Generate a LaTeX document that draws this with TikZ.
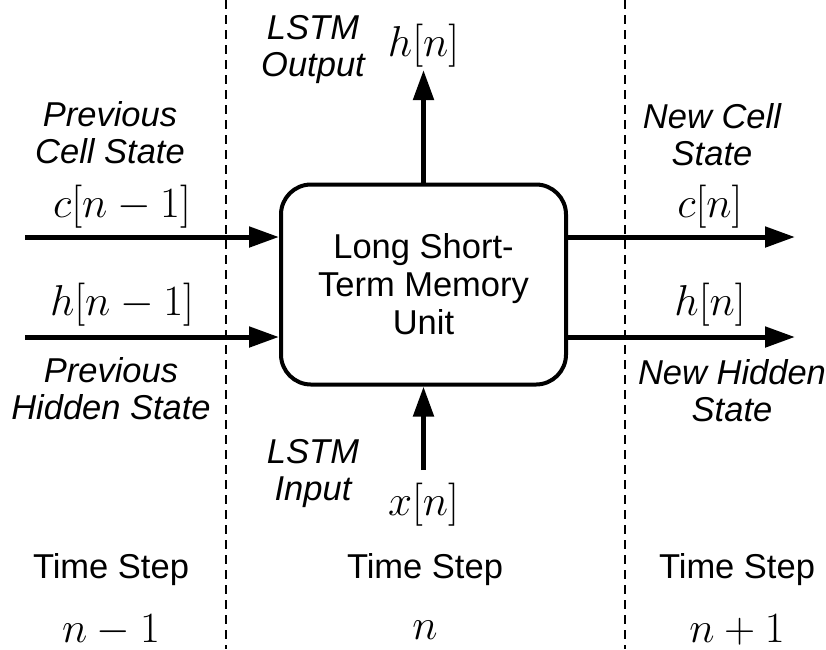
\documentclass[tikz,border=0pt]{standalone}
\usepackage{fontspec}
\newfontfamily\lblfont{Liberation Sans}
\usetikzlibrary{arrows.meta}
\usetikzlibrary{positioning}

\begin{document}
\begin{tikzpicture}[
    x=0.4pt, y=-0.4pt,
    unit/.style={draw, line width=1.6pt, rounded corners=12pt, minimum width=114pt, minimum height=80pt, align=center, font=\lblfont\fontsize{13.8}{15.2}\selectfont},
    flow/.style={-{Triangle[length=12pt,width=8pt]}, line width=2pt},
    sig/.style={inner sep=0pt, font=\fontsize{17.5}{20}\selectfont},
    desc/.style={align=center, inner sep=0pt, font=\lblfont\itshape\fontsize{13.8}{14.8}\selectfont},
    stepname/.style={inner sep=0pt, font=\lblfont\fontsize{13.8}{15}\selectfont},
    divider/.style={line width=0.9pt, dash pattern=on 3.6pt off 2.4pt}
]
\useasboundingbox (0,0) rectangle (826,649);

% =========================================================================
% TIME STEP DIVIDERS
% =========================================================================
\coordinate (divA top) at (226,0);
\coordinate (divA bot) at (226,649);
\coordinate (divB top) at (625,0);
\coordinate (divB bot) at (625,649);
\draw[divider] (divA top) -- (divA bot);
\draw[divider] (divB top) -- (divB bot);

% =========================================================================
% LSTM UNIT
% =========================================================================
\node[unit] (lstm) at (423.5,284.5) {Long Short-\\Term Memory\\Unit};

% =========================================================================
% INPUTS (left side and bottom)
% =========================================================================
\coordinate (cin) at (25,237);
\coordinate (hin) at (25,337);
\coordinate (xin) at (423.5,470);

\draw[flow] (cin) -- (cin -| lstm.west);
\draw[flow] (hin) -- (hin -| lstm.west);
\draw[flow] (xin) -- (lstm.south);

\node[desc] (cprevtxt) at (110,133) {Previous\\Cell State};
\node[sig] (cprev) at (122,207) {$c[n-1]$};
\node[sig] (hprev) at (122,305) {$h[n-1]$};
\node[desc] (hprevtxt) at (111,389) {Previous\\Hidden State};

\node[desc] (intxt) at (313,474) {LSTM\\Input};
\node[sig] (xcur) at (423.5,505) {$x[n]$};

% =========================================================================
% OUTPUTS (right side and top)
% =========================================================================
\coordinate (cout) at (795,237);
\coordinate (hout) at (795,337);
\coordinate (yout) at (423.5,70);

\draw[flow] (lstm.east |- cout) -- (cout);
\draw[flow] (lstm.east |- hout) -- (hout);
\draw[flow] (lstm.north) -- (yout);

\node[desc] (outtxt) at (313,50) {LSTM\\Output};
\node[sig] (hcur top) at (423.5,46) {$h[n]$};

\node[desc] (cnewtxt) at (712,135) {New Cell\\State};
\node[sig] (cnew) at (710,207) {$c[n]$};
\node[sig] (hnew) at (710,305) {$h[n]$};
\node[desc] (hnewtxt) at (732,391) {New Hidden\\State};

% =========================================================================
% TIME STEP LABELS
% =========================================================================
\node[stepname] (tsA) at (111,570) {Time Step};
\node[sig] (nA) at (111,630) {$n-1$};
\node[stepname] (tsB) at (425,570) {Time Step};
\node[sig] (nB) at (425,630) {$n$};
\node[stepname] (tsC) at (737,570) {Time Step};
\node[sig] (nC) at (737,630) {$n+1$};

\end{tikzpicture}
\end{document}
